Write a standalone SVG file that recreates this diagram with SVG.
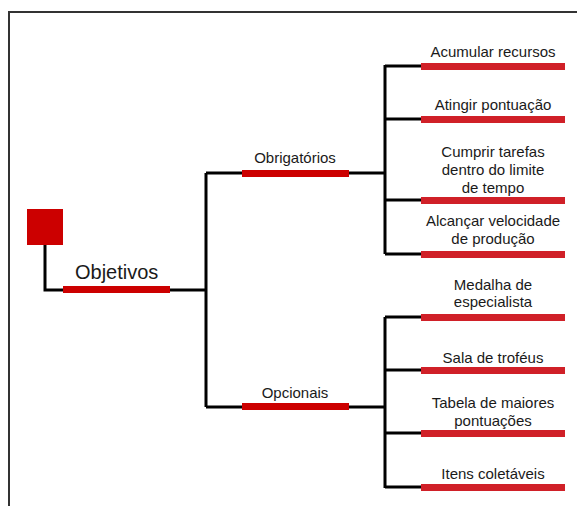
<svg xmlns="http://www.w3.org/2000/svg" width="577" height="506" viewBox="0 0 577 506">
<style>
.frame{fill:none;stroke:#333;stroke-width:2}
.ln{fill:none;stroke:#000;stroke-width:3}
.bar{fill:#cc0000}
.leaf{fill:#d02028}
text{font-family:"Liberation Sans",Arial,sans-serif;fill:#1a1a1a;font-size:15px;text-anchor:middle}
.big{font-size:20px;text-anchor:start}
</style>
<rect class="frame" x="9" y="12" width="580" height="510"/>
<g id="connectors">
<path class="ln" d="M45,245 V290 H63"/>
<path class="ln" d="M170,290 H206"/>
<path class="ln" d="M206,173 V407 M206,173 H242 M206,407 H242"/>
<path class="ln" d="M349,173 H385 M385,65 V254 M385,66 H421 M385,119 H421 M385,200 H421 M385,254 H421"/>
<path class="ln" d="M349,407 H385 M385,317 V488 M385,317 H421 M385,370 H421 M385,433 H421 M385,487 H421"/>
</g>
<g id="root"><rect class="bar" x="27" y="209" width="36" height="36"/></g>
<g id="objetivos"><rect class="bar" x="63" y="286" width="107" height="7"/><text class="big" x="75" y="279">Objetivos</text></g>
<g id="obrigatorios"><rect class="bar" x="242" y="170" width="107" height="7"/><text x="295" y="163">Obrigatórios</text></g>
<g id="opcionais"><rect class="bar" x="242" y="403" width="107" height="7"/><text x="295" y="398">Opcionais</text></g>
<g id="acumular"><rect class="leaf" x="421" y="63" width="144" height="7"/><text x="493" y="57">Acumular recursos</text></g>
<g id="atingir"><rect class="leaf" x="421" y="116" width="144" height="7"/><text x="493" y="110">Atingir pontuação</text></g>
<g id="cumprir"><rect class="leaf" x="421" y="197" width="144" height="7"/><text x="493" y="157">Cumprir tarefas</text><text x="493" y="175">dentro do limite</text><text x="493" y="193">de tempo</text></g>
<g id="alcancar"><rect class="leaf" x="421" y="251" width="144" height="7"/><text x="493" y="226">Alcançar velocidade</text><text x="493" y="244">de produção</text></g>
<g id="medalha"><rect class="leaf" x="421" y="314" width="144" height="7"/><text x="493" y="290">Medalha de</text><text x="493" y="307">especialista</text></g>
<g id="sala"><rect class="leaf" x="421" y="367" width="144" height="7"/><text x="493" y="363">Sala de troféus</text></g>
<g id="tabela"><rect class="leaf" x="421" y="430" width="144" height="7"/><text x="493" y="408">Tabela de maiores</text><text x="493" y="426">pontuações</text></g>
<g id="itens"><rect class="leaf" x="421" y="484" width="144" height="7"/><text x="493" y="479">Itens coletáveis</text></g>
</svg>
